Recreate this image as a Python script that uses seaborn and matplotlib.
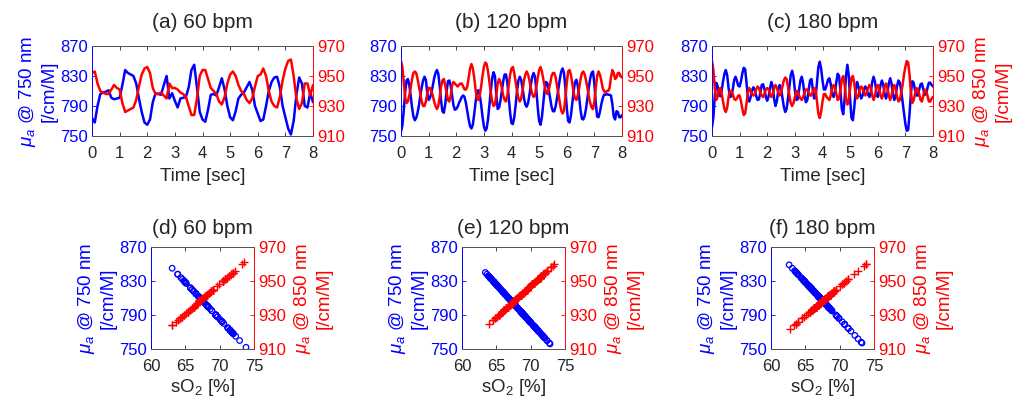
import numpy as np
import pandas as pd
import seaborn as sns
import matplotlib.pyplot as plt

# time series values (mu_a in /cm/M)
blue_a = [774, 768, 790, 806, 808, 809, 811, 801, 799, 800,
          801, 818, 838, 834, 832, 830, 820, 800, 782, 768,
          765, 772, 795, 807, 806, 805, 818, 830, 800, 807,
          797, 788, 800, 801, 802, 815, 838, 845, 815, 782,
          772, 769, 785, 805, 806, 804, 815, 827, 812, 790,
          775, 771, 783, 800, 805, 808, 815, 822, 812, 790,
          780, 770, 772, 790, 810, 822, 828, 829, 815, 790,
          775, 760, 752, 770, 805, 828, 820, 790, 788, 808,
          795]
red_a = [952, 953, 945, 940, 939, 938, 938, 941, 944, 942,
         941, 932, 926, 927, 928, 929, 934, 943, 951, 955,
         956, 952, 942, 938, 938, 939, 937, 935, 945, 942,
         942, 941, 939, 938, 936, 930, 924, 924, 935, 950,
         954, 954, 948, 942, 940, 938, 933, 931, 936, 945,
         951, 953, 950, 944, 940, 938, 934, 932, 935, 943,
         950, 951, 955, 950, 940, 933, 930, 929, 936, 947,
         955, 960, 961, 950, 935, 928, 932, 945, 945, 937,
         944]

blue_b = [756, 764, 784, 808, 824, 826, 818, 804, 788, 776,
          771, 774, 781, 791, 804, 815, 824, 829, 825, 808,
          798, 801, 807, 817, 827, 834, 838, 833, 817, 797,
          783, 781, 792, 809, 823, 824, 817, 804, 791, 785,
          786, 789, 794, 798, 802, 804, 802, 794, 783, 772,
          763, 760, 765, 779, 795, 808, 811, 805, 792, 776,
          763, 757, 760, 772, 791, 810, 827, 835, 830, 805,
          786, 788, 797, 810, 823, 832, 832, 821, 801, 781,
          767, 766, 775, 791, 810, 824, 829, 825, 814, 801,
          792, 789, 794, 805, 818, 829, 834, 829, 811, 788,
          770, 765, 775, 794, 812, 822, 820, 811, 800, 789,
          783, 783, 790, 801, 814, 826, 836, 840, 834, 814,
          788, 770, 768, 777, 793, 810, 822, 825, 817, 802,
          784, 773, 772, 777, 787, 801, 815, 827, 834, 836,
          820, 794, 776, 775, 782, 792, 800, 805, 805, 806,
          805, 805, 804, 793, 776, 772, 783, 782, 775, 775,
          778]
red_b = [960, 956, 946, 936, 932, 933, 937, 942, 948, 952,
         953, 952, 948, 943, 938, 933, 930, 930, 933, 938,
         942, 942, 940, 937, 933, 930, 928, 930, 936, 943,
         947, 948, 944, 939, 934, 933, 937, 944, 946, 945,
         944, 943, 944, 945, 945, 943, 941, 941, 943, 949,
         955, 958, 955, 949, 941, 935, 934, 937, 943, 950,
         956, 959, 958, 953, 946, 939, 933, 930, 931, 937,
         945, 948, 946, 942, 937, 934, 933, 937, 944, 951,
         955, 956, 952, 946, 940, 935, 933, 935, 940, 947,
         951, 953, 951, 947, 942, 938, 936, 937, 943, 949,
         954, 956, 953, 948, 943, 939, 938, 941, 945, 950,
         952, 952, 949, 943, 938, 932, 927, 925, 927, 935,
         945, 953, 954, 951, 945, 939, 935, 934, 937, 942,
         948, 952, 953, 951, 947, 942, 936, 932, 929, 928,
         933, 942, 950, 953, 951, 947, 942, 940, 939, 940,
         940, 942, 949, 954, 952, 948, 949, 952, 952, 950,
         949]

blue_c = [762, 775, 803, 821, 817, 805, 803, 811, 823, 833,
          838, 831, 814, 802, 803, 812, 824, 829, 824, 817,
          816, 823, 834, 841, 839, 821, 802, 796, 802, 811,
          815, 811, 803, 798, 799, 808, 818, 819, 812, 802,
          797, 803, 814, 822, 816, 799, 790, 797, 811, 818,
          813, 801, 789, 782, 786, 800, 816, 831, 837, 829,
          811, 798, 799, 811, 824, 829, 820, 804, 795, 798,
          812, 824, 826, 812, 800, 802, 821, 842, 849, 840,
          824, 812, 812, 818, 825, 827, 819, 807, 802, 808,
          822, 833, 830, 809, 786, 779, 799, 830, 845, 831,
          799, 774, 771, 788, 811, 822, 816, 806, 800, 804,
          812, 816, 812, 805, 802, 809, 822, 829, 822, 809,
          802, 807, 818, 824, 818, 806, 800, 807, 820, 827,
          820, 805, 798, 804, 817, 824, 821, 810, 795, 779,
          766, 757, 758, 779, 807, 823, 821, 811, 804, 804,
          812, 819, 820, 812, 805, 806, 814, 821, 821, 818,
          816]
red_c = [960, 954, 942, 934, 936, 941, 942, 938, 933, 928,
         926, 929, 936, 940, 940, 938, 935, 934, 935, 937,
         937, 933, 928, 924, 925, 932, 939, 942, 940, 938,
         937, 938, 941, 943, 942, 939, 937, 936, 938, 941,
         942, 941, 938, 936, 938, 942, 944, 942, 939, 937,
         939, 943, 947, 949, 948, 943, 937, 932, 930, 932,
         936, 940, 940, 937, 935, 934, 936, 939, 941, 941,
         939, 937, 937, 940, 942, 941, 933, 925, 922, 926,
         933, 938, 938, 936, 935, 934, 937, 942, 944, 942,
         938, 934, 935, 941, 948, 950, 944, 935, 931, 934,
         942, 949, 950, 945, 938, 935, 937, 941, 943, 942,
         939, 937, 939, 942, 944, 942, 937, 934, 937, 942,
         944, 942, 937, 935, 938, 943, 945, 942, 937, 934,
         937, 942, 944, 941, 936, 933, 934, 939, 944, 951,
         956, 960, 959, 951, 939, 932, 934, 938, 942, 941,
         938, 934, 933, 937, 941, 940, 937, 933, 933, 935,
         936]

titles_top = ['(a) 60 bpm', '(b) 120 bpm', '(c) 180 bpm']
titles_bot = ['(d) 60 bpm', '(e) 120 bpm', '(f) 180 bpm']

# sO2 fit lines: (sO2, mu) at both ends
blue_fit = [[(62.85, 847), (73.6, 754)],
            [(63.4, 840), (73.05, 754)],
            [(62.7, 848.5), (73.6, 754)]]
red_fit = [[(62.5, 922), (74.6, 964.5)],
           [(63.3, 922.4), (73.2, 959)],
           [(62.3, 920.3), (73.9, 960)]]

series = [(blue_a, red_a), (blue_b, red_b), (blue_c, red_c)]

sns.set_style('ticks')
plt.rcParams['font.family'] = ['Liberation Sans', 'DejaVu Sans']
plt.rcParams['mathtext.fontset'] = 'custom'
plt.rcParams['mathtext.rm'] = 'Liberation Sans'
plt.rcParams['mathtext.it'] = 'Liberation Sans:italic'

BLUE = (0, 0, 1)
RED = (1, 0, 0)
DARK = '#262626'
lab750 = '$\\mu_a$ @ 750 nm\n[/cm/M]'
lab850 = '$\\mu_a$ @ 850 nm\n[/cm/M]'

fig = plt.figure(figsize=(10.13, 4.01), dpi=100)


def dress(ax, ax2):
    for a in (ax, ax2):
        for s in ['top', 'bottom']:
            a.spines[s].set_color('#555555')
            a.spines[s].set_linewidth(0.7)
        a.spines['left'].set_color(BLUE)
        a.spines['right'].set_color(RED)
        a.spines['left'].set_linewidth(0.6)
        a.spines['right'].set_linewidth(0.6)
    ax.tick_params(axis='x', direction='in', top=True, length=3, width=0.6,
                   labelsize=12, colors=DARK, pad=7)
    ax.tick_params(axis='y', direction='in', length=3, width=0.6,
                   labelsize=12, colors=BLUE, pad=3)
    ax2.tick_params(axis='y', direction='in', length=3, width=0.6,
                    labelsize=12, colors=RED, pad=3)


top_left = [92, 401, 712]
bot_left = [151, 462, 771]
W, H = 1013, 401

for i in range(3):
    blue, red = series[i]
    t = np.linspace(0, 8, len(blue))
    df = pd.DataFrame({'t': t, 'b': blue, 'r': red})

    # time series row
    ax = fig.add_axes([top_left[i] / W, 1 - 136 / H, 221 / W, 90 / H])
    sns.lineplot(data=df, x='t', y='b', color=BLUE, lw=1.8, ax=ax)
    ax.set_xlim(0, 8)
    ax.set_xticks(range(9))
    ax.set_ylim(750, 870)
    ax.set_yticks([750, 790, 830, 870])
    ax.set_xlabel('Time [sec]', fontsize=13.5, color=DARK, labelpad=5)
    ax.set_ylabel(lab750 if i == 0 else '', fontsize=13.5, color=BLUE, labelpad=2)
    ax.set_title(titles_top[i], fontsize=15, color=DARK, pad=13)
    ax2 = ax.twinx()
    sns.lineplot(data=df, x='t', y='r', color=RED, lw=1.8, ax=ax2)
    ax2.set_ylim(910, 970)
    ax2.set_yticks([910, 930, 950, 970])
    ax2.set_ylabel(lab850 if i == 2 else '', fontsize=13.5, color=RED, labelpad=4)
    dress(ax, ax2)

    # sO2 scatter row
    (sb1, mb1), (sb2, mb2) = blue_fit[i]
    (sr1, mr1), (sr2, mr2) = red_fit[i]
    so2_b = sb1 + (np.array(blue) - mb1) * (sb2 - sb1) / (mb2 - mb1)
    so2_r = sr1 + (np.array(red) - mr1) * (sr2 - sr1) / (mr2 - mr1)

    bx = fig.add_axes([bot_left[i] / W, 1 - 349 / H, 103 / W, 102 / H])
    sns.scatterplot(x=so2_b, y=blue, ax=bx, marker='o', s=16,
                    facecolor='none', edgecolor=BLUE, linewidth=0.9)
    bx.set_xlim(60, 75)
    bx.set_xticks([60, 65, 70, 75])
    bx.set_ylim(750, 870)
    bx.set_yticks([750, 790, 830, 870])
    bx.set_xlabel('sO$_2$ [%]', fontsize=13.5, color=DARK, labelpad=2)
    bx.set_ylabel(lab750, fontsize=13.5, color=BLUE, labelpad=2)
    bx.set_title(titles_bot[i], fontsize=15, color=DARK, pad=9)
    bx2 = bx.twinx()
    sns.scatterplot(x=so2_r, y=red, ax=bx2, marker='+', s=36,
                    color=RED, linewidth=1.0)
    bx2.set_ylim(910, 970)
    bx2.set_yticks([910, 930, 950, 970])
    bx2.set_ylabel(lab850, fontsize=13.5, color=RED, labelpad=4)
    dress(bx, bx2)

fig.savefig('out.png', dpi=100)
